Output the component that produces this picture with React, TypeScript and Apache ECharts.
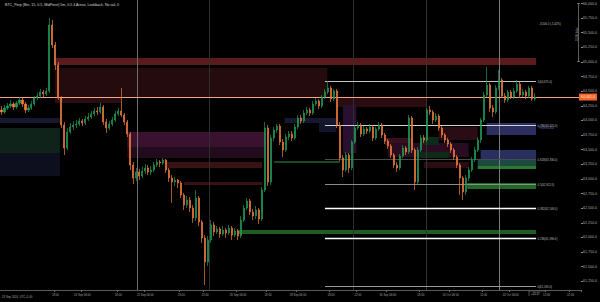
import React, { useEffect, useRef } from "react";
import * as echarts from "echarts";

const TITLE = "BTC_Perp (Bin, 15, 0.5, MidPoint) 5m, 0.5 4 Areas, Lookback, No tail, 0";
const FIRST_X_LABEL = "23 Sep 2024, UTC+1:00";
const CATEGORY_COUNT = 194;
const categories = Array.from({ length: CATEGORY_COUNT }, (_, i) => String(i));

// [open, close, low, high]
const candles: number[][] = [
  [64179,64145,64093,64247],[64145,64213,64111,64264],[64213,64247,64179,64299],[64247,64282,64213,64350],
  [64282,64230,64179,64316],[64230,64299,64196,64333],[64299,64350,64264,64401],[64350,64282,64230,64384],
  [64282,64179,64128,64316],[64179,64213,64145,64264],[64213,64282,64179,64333],[64282,64384,64247,64418],
  [64384,64418,64350,64470],[64418,64487,64384,64538],[64487,64453,64401,64521],[64453,64504,64418,64555],
  [64504,65632,64470,65752],[65632,65290,65239,65718],[65290,64948,64863,65342],[64948,64384,64350,65000],
  [64384,63922,63871,64418],[63922,63529,63409,63974],[63529,63803,63495,63871],[63803,63888,63769,63957],
  [63888,63922,63837,63991],[63922,63940,63871,64008],[63940,63991,63905,64042],[63991,63957,63905,64025],
  [63957,64025,63922,64076],[64025,64059,63991,64128],[64059,64111,64025,64162],[64111,64162,64076,64213],
  [64162,64145,64093,64230],[64145,64230,64111,64299],[64230,63974,63922,64264],[63974,63871,63786,64025],
  [63871,63940,63837,63991],[63940,64008,63905,64059],[64008,64111,63974,64162],[64111,64162,64076,64213],
  [64162,64093,64059,64555],[64093,63974,63922,64128],[63974,63769,63717,64008],[63769,63238,63153,63803],
  [63238,63016,62914,63290],[63016,63119,62965,63187],[63119,63050,62982,63170],[63050,63136,63016,63204],
  [63136,63187,63085,63256],[63187,63119,63067,63238],[63119,63153,63067,63221],[63153,63238,63119,63290],
  [63238,63290,63204,63341],[63290,63273,63204,63324],[63273,63324,63238,63358],[63324,63153,63102,63341],
  [63153,63016,62948,63187],[63016,62948,62589,63067],[62948,62982,62879,63033],[62982,62931,62845,62999],
  [62931,62725,62674,62965],[62725,62554,62469,62760],[62554,62640,62503,62708],[62640,62503,62435,62691],
  [62503,62332,62247,62554],[62332,62674,62281,62811],[62674,62264,62195,62708],[62264,61990,61905,62298],
  [61990,61580,61186,62041],[61580,61956,61512,62024],[61956,62212,61905,62298],[62212,62093,62024,62264],
  [62093,62144,62059,62195],[62144,62059,61990,62178],[62059,62127,62024,62195],[62127,62076,61990,62161],
  [62076,62161,62041,62212],[62161,62041,61956,62195],[62041,62110,62007,62161],[62110,62024,61956,62144],
  [62024,62298,61990,62366],[62298,62503,62264,62554],[62503,62623,62469,62674],[62623,62435,62383,62657],
  [62435,62366,62298,62486],[62366,62469,62315,62537],[62469,62315,62230,62503],[62315,62811,62281,62862],
  [62811,63871,62777,63974],[63871,62948,62879,63922],[62948,63700,62896,63751],[63700,63837,63649,63888],
  [63837,63905,63786,63940],[63905,63632,63580,63940],[63632,63495,63375,63683],[63495,63717,63461,63769],
  [63717,63769,63666,63820],[63769,63700,63649,63820],[63700,63888,63666,63940],[63888,64042,63854,64093],
  [64042,63991,63940,64093],[63991,64128,63957,64179],[64128,64179,64093,64230],[64179,64128,64076,64213],
  [64128,64282,64093,64333],[64282,64333,64247,64384],[64333,64247,64196,64367],[64247,64401,64213,64435],
  [64401,64487,64367,64538],[64487,64555,64453,64675],[64555,64367,64316,64589],[64367,64504,64333,64538],
  [64504,63922,63871,64538],[63922,63358,63307,63974],[63358,63153,63033,63409],[63153,63409,63119,63461],
  [63409,63187,63102,63444],[63187,63632,63153,63666],[63632,63871,63598,63922],[63871,63922,63837,63974],
  [63922,63769,63717,63957],[63769,63854,63734,63905],[63854,63820,63769,63888],[63820,63888,63786,63940],
  [63888,63700,63649,63922],[63700,63854,63666,63888],[63854,63922,63820,63974],[63922,63751,63700,63957],
  [63751,63649,63598,63786],[63649,63563,63512,63683],[63563,63409,63358,63598],[63409,63238,63187,63444],
  [63238,63187,63119,63290],[63187,63392,63153,63427],[63392,63529,63358,63580],[63529,63461,63409,63563],
  [63461,64042,63427,64093],[64042,63495,63444,64076],[63495,62948,62811,63529],[62948,63495,62896,63546],
  [63495,63700,63461,63751],[63700,63666,63615,63751],[63666,64179,63632,64213],[64179,64145,64093,64247],
  [64145,64008,63940,64179],[64008,64076,63974,64128],[64076,63871,63820,64111],[63871,63751,63700,63905],
  [63751,63666,63615,63786],[63666,63598,63546,63700],[63598,63495,63444,63632],[63495,63375,63324,63529],
  [63375,63238,63187,63409],[63238,63016,62725,63273],[63016,62777,62640,63050],[62777,63016,62725,63067],
  [63016,63153,62965,63204],[63153,63324,63119,63375],[63324,63495,63290,63546],[63495,63666,63461,63717],
  [63666,64008,63615,64042],[64008,64435,63974,64487],[64435,64606,64401,64914],[64606,64213,64145,64641],
  [64213,64145,64059,64264],[64145,64555,64111,64606],[64555,64692,64521,64863],[64692,64418,64384,64726],
  [64418,64350,64299,64470],[64350,64487,64316,64521],[64487,64401,64367,64521],[64401,64504,64367,64555],
  [64504,64624,64470,64692],[64624,64435,64384,64658],[64435,64487,64401,64538],[64487,64418,64367,64521],
  [64418,64555,64384,64589],[64555,64367,64333,64589],[64367,64401,64333,64470],
];

const LAST_PRICE = 64401;

const yTicks = [
  61250, 61500, 61750, 62000, 62250, 62500, 62750, 63000, 63250, 63500,
  63750, 64000, 64250, 64500, 64750, 65000, 65250, 65500, 65750, 66000,
];

const xLabelIdx = [18, 27, 39, 48, 60, 68, 79, 89, 99, 110, 119, 129, 140, 150, 161, 170, 182, 190];
const xLabelText = [
  "18:00", "24 Sep 06:00", "18:00", "25 Sep 06:00", "13:00", "22:00", "26 Sep 06:00", "18:00",
  "28 Sep 06:00", "18:00", "22:00", "30 Sep 06:00", "18:00", "01 Oct 06:00", "12:00",
  "02 Oct 06:00", "12:00", "22:00",
];

// zones: [startIndex, endIndex, lowPrice, highPrice]
const zones: number[][] = [
  [17.8, 108.8, 64401, 64897],
  [17.8, 40, 64299, 64401],
  [17.8, 178.5, 64948, 65068],
  [112, 142, 64230, 64384],
  [-0.5, 19.5, 63957, 64042],
  [-0.5, 19.5, 63444, 63871],
  [-0.5, 19.5, 63050, 63444],
  [42, 88, 63546, 63803],
  [42, 88, 63358, 63546],
  [55, 87, 63187, 63290],
  [61, 87, 62896, 62948],
  [79, 178.5, 62059, 62127],
  [114, 118.5, 63444, 64264],
  [94.5, 111.8, 63957, 64042],
  [106, 111.8, 63803, 63957],
  [91, 113, 63273, 63307],
  [128, 137, 63580, 63700],
  [146, 159, 63666, 63888],
  [129, 156, 63375, 63615],
  [140.5, 146, 63580, 63717],
  [139.5, 149.5, 63358, 63461],
  [141, 156, 63187, 63290],
  [162, 178.5, 63751, 63957],
  [160, 178.5, 63324, 63495],
  [159, 178.5, 63221, 63324],
  [159, 178.5, 63170, 63221],
  [155.5, 178.5, 62828, 62931],
];
const zoneColors = [
  "#230b0e", "#2c0d11", "#5a1a1e", "#2a0c10", "#17182f", "#0f231a", "#0d0f1e",
  "#3a1230", "#220b1c", "#3a1216", "#3a1015", "#1f5c23", "#2a1030", "#17182f",
  "#14152c", "#1b4a22", "#3a1020", "#2a0c14", "#2a0c20", "#0e2a18", "#0e2a18",
  "#2a0c14", "#2b2e5e", "#283060", "#1c4a40", "#2a7a30", "#1e6a24",
];

// fibonacci retracement levels
const FIB_START = 108;
const FIB_END = 178.5;
const fibPrices = [64675, 63925, 63336, 62922, 62508, 61996, 61169];
const fibLabels = ["1(64,675.0)", "0.786(63,925.0)", "0.618(63,336.0)", "0.5(62,922.0)", "0.382(62,508.0)", "0.236(61,996.0)", "0(61,169.0)"];
const fibColors = ["#c4c4c4", "#d0d0d0", "#4a4a4a", "#8c8c8c", "#ffffff", "#ffffff", "#9a9a9a"];
const fibWidths = [1, 1, 1, 1, 1.4, 1.4, 1];

// vertical separators (category positions)
const vLines = [45.2, 69.2, 117.5, 141.8, 166];
const vLineColors = ["#6e6e6e", "#2e2e2e", "#2e2e2e", "#333333", "#7a7a7a"];

const fmt = (v: number) =>
  v.toLocaleString("en-US", { minimumFractionDigits: 1, maximumFractionDigits: 1 });

export default function App() {
  const ref = useRef<HTMLDivElement>(null);
  useEffect(() => {
    if (!ref.current) return;
    const chart = echarts.init(ref.current, null, { renderer: "svg" });
    const labelMap: Record<number, string> = {};
    xLabelIdx.forEach((i, k) => (labelMap[i] = xLabelText[k]));
    const font = "Liberation Sans";

    const option: any = {
      animation: false,
      backgroundColor: "#000000",
      grid: { left: 0, right: 18, top: 0, bottom: 12 },
      xAxis: {
        type: "category",
        data: categories,
        boundaryGap: true,
        axisLine: { lineStyle: { color: "#5a5a5a", width: 1 } },
        axisTick: {
          show: true,
          interval: (i: number) => labelMap[i] !== undefined,
          length: 2,
          lineStyle: { color: "#6a6a6a" },
        },
        axisLabel: {
          interval: (i: number) => labelMap[i] !== undefined,
          formatter: (_v: string, i: number) => labelMap[i] ?? "",
          fontSize: 2.8,
          color: "#a0a0a0",
          margin: 3,
          fontFamily: font,
        },
        splitLine: { show: false },
      },
      yAxis: {
        type: "value",
        position: "right",
        min: 61101,
        max: 66060,
        axisLine: { show: false },
        axisTick: { show: true, customValues: yTicks, length: 2, lineStyle: { color: "#8a8a8a" } },
        axisLabel: {
          customValues: yTicks,
          formatter: (v: number) => fmt(v),
          fontSize: 3.6,
          color: "#a8a8a8",
          margin: 2,
          fontFamily: font,
        },
        splitLine: { show: false },
      },
      series: [
        {
          type: "custom",
          name: "zones",
          z: 1,
          silent: true,
          encode: { x: 0, y: [3, 4] },
          data: zones.map((b, k) => [k, b[0], b[1], b[2], b[3]]),
          renderItem: (_p: any, api: any) => {
            const k = api.value(0);
            const x0 = api.value(1);
            const x1 = api.value(2);
            const top = api.coord([0, api.value(4)]);
            const bot = api.coord([0, api.value(3)]);
            const bw = api.size([1, 0])[0];
            return {
              type: "rect",
              shape: { x: top[0] + x0 * bw, y: top[1], width: (x1 - x0) * bw, height: bot[1] - top[1] },
              style: { fill: zoneColors[k] },
            };
          },
        },
        {
          type: "custom",
          name: "separators",
          z: 2,
          silent: true,
          encode: { x: 0, y: 2 },
          data: vLines.map((v, k) => [k, v, 64000]),
          renderItem: (p: any, api: any) => {
            const k = api.value(0);
            const base = api.coord([0, 64000]);
            const bw = api.size([1, 0])[0];
            const x = Math.round(base[0] + api.value(1) * bw) + 0.5;
            const cs = p.coordSys;
            return {
              type: "line",
              shape: { x1: x, y1: cs.y, x2: x, y2: cs.y + cs.height },
              style: { stroke: vLineColors[k], lineWidth: 1 },
            };
          },
        },
        {
          type: "custom",
          name: "fib",
          z: 3,
          silent: true,
          encode: { x: 0, y: 1 },
          data: fibPrices.map((p, k) => [k, p]),
          renderItem: (_p: any, api: any) => {
            const k = api.value(0);
            const pt = api.coord([0, api.value(1)]);
            const bw = api.size([1, 0])[0];
            const xa = pt[0] + FIB_START * bw;
            const xb = pt[0] + FIB_END * bw;
            const y = Math.round(pt[1]) + 0.5;
            return {
              type: "group",
              children: [
                {
                  type: "line",
                  shape: { x1: xa, y1: y, x2: xb, y2: y },
                  style: { stroke: fibColors[k], lineWidth: fibWidths[k] },
                },
                {
                  type: "text",
                  x: xb + 1.5,
                  y: y,
                  style: {
                    text: fibLabels[k],
                    fill: "#bdbdbd",
                    fontSize: 2.8,
                    fontFamily: font,
                    verticalAlign: "middle",
                    align: "left",
                  },
                },
              ],
            };
          },
        },
        {
          type: "candlestick",
          name: "price",
          z: 5,
          barWidth: 1.6,
          data: candles,
          itemStyle: {
            color: "#1f9a56",
            color0: "#ef7b3b",
            borderColor: "#1f9a56",
            borderColor0: "#ef7b3b",
            borderWidth: 0.7,
          },
          markLine: {
            silent: true,
            symbol: ["none", "none"],
            animation: false,
            data: [{ yAxis: LAST_PRICE }],
            lineStyle: { color: "#f0a58a", width: 1, type: "solid" },
            label: {
              show: true,
              position: "end",
              formatter: fmt(LAST_PRICE),
              backgroundColor: "#f0662a",
              color: "#ffe6d8",
              fontSize: 3.6,
              fontFamily: font,
              padding: [1.5, 2],
              distance: -2,
            },
          },
        },
      ],
      graphic: [
        {
          type: "text",
          left: 5,
          top: 3,
          silent: true,
          style: { text: TITLE, fill: "#d8d8d8", fontSize: 3.6, fontFamily: font },
        },
        {
          type: "text",
          left: 2,
          top: 295,
          silent: true,
          style: { text: FIRST_X_LABEL, fill: "#a0a0a0", fontSize: 2.8, fontFamily: font },
        },
        {
          type: "line",
          silent: true,
          shape: { x1: 578.5, y1: 3, x2: 578.5, y2: 62 },
          style: { stroke: "#9a9a9a", lineWidth: 0.6 },
        },
        {
          type: "line",
          silent: true,
          shape: { x1: 577, y1: 3.5, x2: 580, y2: 3.5 },
          style: { stroke: "#9a9a9a", lineWidth: 0.6 },
        },
        {
          type: "line",
          silent: true,
          shape: { x1: 577, y1: 61.5, x2: 580, y2: 61.5 },
          style: { stroke: "#9a9a9a", lineWidth: 0.6 },
        },
        {
          type: "text",
          x: 577,
          y: 41,
          rotation: Math.PI / 2,
          silent: true,
          style: { text: "3,506 ticks", fill: "#b0b0b0", fontSize: 2.8, fontFamily: font, verticalAlign: "middle" },
        },
        {
          type: "text",
          x: 539,
          y: 24,
          silent: true,
          style: { text: "-3,506.0 (-5.42%)", fill: "#bdbdbd", fontSize: 2.8, fontFamily: font, verticalAlign: "middle" },
        },
        {
          type: "text",
          x: 539,
          y: 128,
          silent: true,
          style: { text: "FVG 63,850", fill: "#6a6ad8", fontSize: 2.8, fontFamily: font, verticalAlign: "middle" },
        },
        {
          type: "text",
          x: 531,
          y: 294,
          silent: true,
          style: { text: "+21:17", fill: "#cfcfcf", fontSize: 2.8, fontFamily: font, verticalAlign: "middle" },
        },
        {
          type: "polyline",
          silent: true,
          shape: { points: [[529, 296], [529, 291], [545, 291]] },
          style: { stroke: "#9a9a9a", lineWidth: 0.5, fill: "none" },
        },
      ],
    };
    chart.setOption(option);
    return () => chart.dispose();
  }, []);
  return (
    <div
      ref={ref}
      style={{ position: "fixed", left: 0, top: 0, width: 600, height: 302, background: "#000" }}
    />
  );
}
